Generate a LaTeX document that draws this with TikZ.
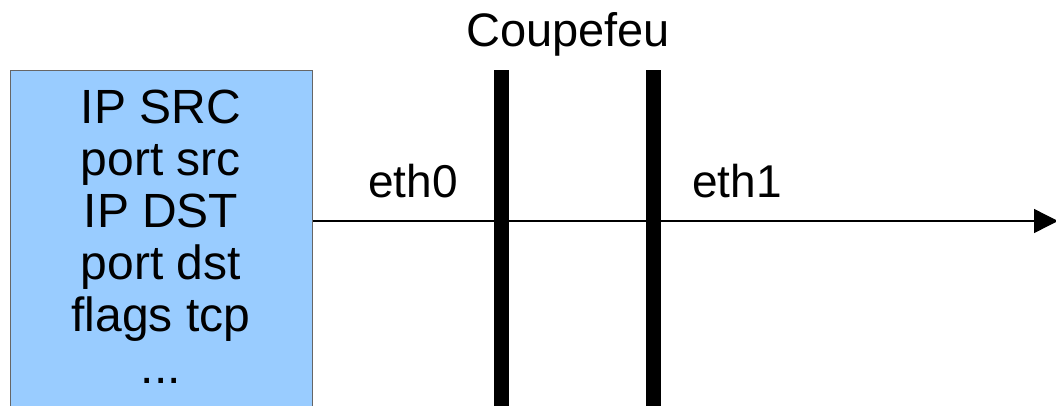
\documentclass[tikz,border=0pt]{standalone}
\usepackage{fontspec}
\setmainfont{Liberation Sans}
\usetikzlibrary{arrows.meta}
\definecolor{pktblue}{HTML}{99CCFF}
\definecolor{pktedge}{HTML}{666666}
\begin{document}
\begin{tikzpicture}[x=1pt,y=-1pt,
  lbl/.style={font=\fontsize{46}{52}\selectfont, inner sep=0pt, anchor=base},
  big/.style={font=\fontsize{48}{52}\selectfont},
  wall/.style={fill=black, draw=none, inner sep=0pt, minimum width=15pt, minimum height=360pt, anchor=north},
  packet/.style={fill=pktblue, draw=pktedge, line width=1pt, inner sep=0pt,
                 minimum width=302pt, minimum height=360pt, anchor=north west},
  flow/.style={line width=1.3pt, -{Triangle[length=24pt,width=24pt]}},
]
\useasboundingbox (0,0) rectangle (1056,405);
\clip (0,0) rectangle (1056,405);

% packet header fields (base anchor sits on the last line)
\node[packet] (hdr) at (10,70) {};
\node[lbl, big, align=center] (fields) at (161,383)
  {IP SRC\\port src\\IP DST\\port dst\\flags tcp\\...};

% firewall interfaces
\node[wall] (fw0) at (501.5,70) {};
\node[wall] (fw1) at (653,70) {};
\node[lbl, font=\fontsize{47}{52}\selectfont] (title) at (568,46) {Coupefeu};
\node[lbl] (eth0) at (413,197) {eth0};
\node[lbl] (eth1) at (737,197) {eth1};

% traffic through the firewall
\coordinate (out) at (1058,221);
\draw[flow] (hdr.east |- out) -- (out);
\end{tikzpicture}
\end{document}
